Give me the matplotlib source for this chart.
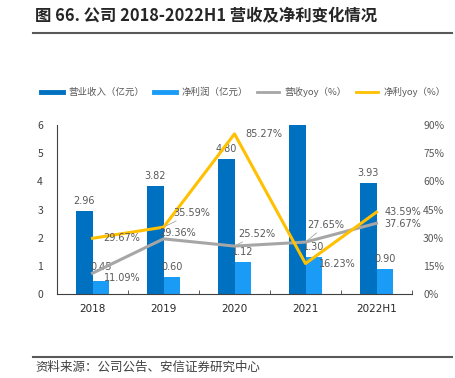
import matplotlib
matplotlib.use('Agg')
import matplotlib.pyplot as plt
import numpy as np
from matplotlib.lines import Line2D

plt.rcParams['font.family'] = ['Noto Sans CJK SC', 'DejaVu Sans']

# 数据
years = ['2018', '2019', '2020', '2021', '2022H1']
revenue = [2.96, 3.82, 4.80, 6.00, 3.93]          # 营业收入（亿元）
profit = [0.45, 0.60, 1.12, 1.30, 0.90]           # 净利润（亿元）
rev_yoy = [11.09, 29.36, 25.52, 27.65, 37.67]     # 营收yoy（%）
profit_yoy = [29.67, 35.59, 85.27, 16.23, 43.59]  # 净利yoy（%）
rev_labels = ['2.96', '3.82', '4.80', '', '3.93']
profit_labels = ['0.45', '0.60', '1.12', '1.30', '0.90']

c_rev = '#0070C0'
c_profit = '#1A9BF5'
c_grey = '#A6A6A6'
c_yellow = '#FFC000'
c_text = '#595959'

fig = plt.figure(figsize=(4.55, 3.78), dpi=100)
ax = fig.add_axes([0.1253, 0.2222, 0.9055 - 0.1253, 0.6693 - 0.2222])
ax2 = ax.twinx()

x = np.arange(len(years))
w = 0.23
ax.bar(x - w / 2, revenue, w, color=c_rev, zorder=2)
ax.bar(x + w / 2, profit, w, color=c_profit, zorder=2)

ax.set_xlim(-0.5, len(years) - 0.5)
ax.set_ylim(0, 6)
ax2.set_ylim(0, 90)

# 柱子标签
profit_dy = [9, 5, 5, 5, 5]
for i in range(len(years)):
    if rev_labels[i]:
        ax.annotate(rev_labels[i], (x[i] - w / 2, revenue[i]), xytext=(0, 5),
                    textcoords='offset pixels', ha='center', va='bottom',
                    fontsize=7, color=c_text, family='DejaVu Sans', zorder=5)
    ax.annotate(profit_labels[i], (x[i] + w / 2, profit[i]), xytext=(0, profit_dy[i]),
                textcoords='offset pixels', ha='center', va='bottom',
                fontsize=7, color=c_text, family='DejaVu Sans', zorder=5)

ax2.plot(x, rev_yoy, color=c_grey, lw=2.2, zorder=3)
ax2.plot(x, profit_yoy, color=c_yellow, lw=2.2, zorder=4)

# 百分比标签 (偏移像素, 是否引线)
yellow_off = [(11, 0, False), (10, 14, True), (11, 0, False), (13, 0, False), (8, 0, False)]
grey_off = [(11, -5, False), (-4, 6, False), (4, 12, True), (2, 17, True), (8, -1, False)]
for vals, offs in ((profit_yoy, yellow_off), (rev_yoy, grey_off)):
    for i, v in enumerate(vals):
        dx, dy, lead = offs[i]
        kw = {}
        if lead:
            kw['arrowprops'] = dict(arrowstyle='-', color=c_grey, lw=0.6,
                                    shrinkA=0, shrinkB=2)
        ax2.annotate(f'{v:.2f}%', (x[i], v), xytext=(dx, dy),
                     textcoords='offset pixels', ha='left', va='center',
                     fontsize=7, color=c_text, family='DejaVu Sans', zorder=6, **kw)

# 坐标轴样式
for a in (ax, ax2):
    for s in ('top', 'right'):
        a.spines[s].set_visible(False)
ax2.spines['left'].set_visible(False)
ax2.spines['bottom'].set_visible(False)
ax.spines['left'].set_color('#404040')
ax.spines['bottom'].set_color('#404040')

ax.set_yticks(range(0, 7))
ax.tick_params(axis='y', length=0, pad=10, labelsize=7.5, labelcolor='#404040')
ax2.set_yticks(range(0, 91, 15))
ax2.set_yticklabels([f'{t}%' for t in range(0, 91, 15)])
ax2.tick_params(axis='y', length=0, pad=8, labelsize=7.5, labelcolor=c_text)

ax.set_xticks(x)
ax.set_xticklabels(years, family='DejaVu Sans')
ax.tick_params(axis='x', length=0, pad=7, labelsize=7.5, labelcolor='#262626')
ax.set_xticks(np.arange(-0.5, len(years)), minor=True)
ax.tick_params(axis='x', which='minor', direction='in', length=3, color='#404040')

# 图例
handles = [Line2D([], [], color=c_rev, lw=3.5),
           Line2D([], [], color=c_profit, lw=3.5),
           Line2D([], [], color=c_grey, lw=2),
           Line2D([], [], color=c_yellow, lw=2)]
labels = ['营业收入（亿元）', '净利润（亿元）', '营收yoy（%）', '净利yoy（%）']
fig.legend(handles, labels, loc='center', bbox_to_anchor=(0.535, 1 - 92 / 378),
           ncol=4, frameon=False, fontsize=6.8, handlelength=2.3,
           handletextpad=0.6, columnspacing=1.0, labelcolor=c_text)

# 标题与来源
fig.text(35 / 455, 1 - 16 / 378, '图 66. 公司 2018-2022H1 营收及净利变化情况',
         fontsize=11.8, fontweight='bold', color='#262626', va='center', ha='left')
fig.add_artist(Line2D([33 / 455, 452 / 455], [1 - 33 / 378, 1 - 33 / 378],
                      color='#595959', lw=1.5))
fig.add_artist(Line2D([33 / 455, 452 / 455], [1 - 357 / 378, 1 - 357 / 378],
                      color='#595959', lw=1.5))
fig.text(35 / 455, 1 - 367 / 378, '资料来源：公司公告、安信证券研究中心',
         fontsize=9, color='#404040', style='italic', va='center', ha='left')

fig.savefig('out.png', dpi=100)
